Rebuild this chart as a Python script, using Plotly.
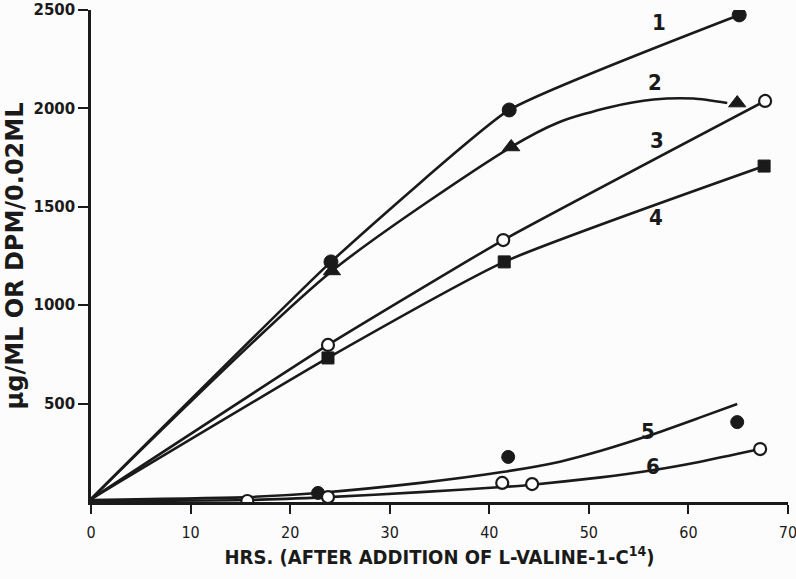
import plotly.graph_objects as go

# measured points (hrs, value)
s1_x = [24.1, 42.0, 65.1]
s1_y = [1220, 1992, 2475]
s2_x = [24.2, 42.2, 64.9]
s2_y = [1174, 1804, 2027]
s3_x = [23.8, 41.4, 67.7]
s3_y = [798, 1331, 2038]
s4_x = [23.8, 41.5, 67.6]
s4_y = [732, 1220, 1707]
s5_x = [22.8, 41.9, 64.9]
s5_y = [46, 229, 406]
s6_x = [15.7, 23.8, 41.3, 44.3, 67.2]
s6_y = [5, 25, 97, 91, 269]

# drawn curves
c1_x = [0, 24.1, 42.0, 65.1]
c1_y = [15, 1220, 1992, 2475]
c2_x = [0, 24.2, 42.2, 47.0, 52.0, 56.5, 60.5, 63.9]
c2_y = [15, 1174, 1804, 1930, 2005, 2045, 2050, 2027]
c3_x = [0, 23.8, 41.4, 67.7]
c3_y = [15, 798, 1331, 2038]
c4_x = [0, 23.8, 41.5, 67.6]
c4_y = [15, 732, 1220, 1707]
c5_x = [0, 15.7, 22.8, 33.1, 41.3, 47.1, 51.2, 56.2, 61.2, 64.9]
c5_y = [10, 25, 46, 97, 152, 205, 260, 340, 430, 498]
c6_x = [0, 15.7, 23.8, 33.1, 41.3, 44.3, 51.2, 56.2, 61.2, 67.2]
c6_y = [5, 10, 25, 50, 76, 88, 125, 160, 205, 269]

lab_text = ["1", "2", "3", "4", "5", "6"]
lab_x = [57.0, 56.6, 56.8, 56.7, 55.9, 56.4]
lab_y = [2439, 2134, 1839, 1448, 356, 178]

x_ticks = [0, 10, 20, 30, 40, 50, 60, 70]
y_ticks = [500, 1000, 1500, 2000, 2500]

fig = go.Figure()

ink = "#1a1a1a"
curves = [(c1_x, c1_y, 0.4), (c2_x, c2_y, 0.7), (c3_x, c3_y, 0.4),
          (c4_x, c4_y, 0.5), (c5_x, c5_y, 0.6), (c6_x, c6_y, 0.6)]
for cx, cy, sm in curves:
    fig.add_trace(go.Scatter(x=cx, y=cy, mode="lines",
                             line=dict(color=ink, width=2.6, shape="spline", smoothing=sm),
                             hoverinfo="skip"))

filled = dict(color=ink, line=dict(color=ink, width=1))
hollow = dict(color="white", line=dict(color=ink, width=2.2))
fig.add_trace(go.Scatter(x=s1_x, y=s1_y, mode="markers", marker=dict(filled, symbol="circle", size=14)))
fig.add_trace(go.Scatter(x=s2_x, y=s2_y, mode="markers", marker=dict(filled, symbol="triangle-up", size=15)))
fig.add_trace(go.Scatter(x=s3_x, y=s3_y, mode="markers", marker=dict(hollow, symbol="circle", size=12)))
fig.add_trace(go.Scatter(x=s4_x, y=s4_y, mode="markers", marker=dict(filled, symbol="square", size=12)))
fig.add_trace(go.Scatter(x=s5_x, y=s5_y, mode="markers", marker=dict(filled, symbol="circle", size=13)))
fig.add_trace(go.Scatter(x=s6_x, y=s6_y, mode="markers", marker=dict(hollow, symbol="circle", size=12)))

for t, lx, ly in zip(lab_text, lab_x, lab_y):
    fig.add_annotation(x=lx, y=ly, text=t, showarrow=False,
                       font=dict(family="DejaVu Sans Condensed", size=22, color=ink, weight="bold"))

fig.update_layout(
    width=796, height=579,
    margin=dict(l=91, r=8, t=10, b=77),
    paper_bgcolor="#fcfcfc", plot_bgcolor="#fcfcfc",
    showlegend=False,
    font=dict(family="Liberation Sans", color=ink),
    xaxis=dict(range=[0, 70], tickvals=x_ticks, showgrid=False, zeroline=False,
               showline=True, linecolor=ink, linewidth=2.5, automargin=False,
               ticks="outside", ticklen=9, tickwidth=2, tickcolor=ink,
               ticklabelstandoff=5, ticklabeloverflow="allow",
               tickfont=dict(family="DejaVu Sans Condensed", size=16),
               title=dict(text="HRS. (AFTER ADDITION OF L-VALINE-1-C<sup>14</sup>)",
                          font=dict(family="DejaVu Sans Condensed", size=20, weight="bold"),
                          standoff=10)),
    yaxis=dict(range=[0, 2500], tickvals=y_ticks, showgrid=False, zeroline=False,
               showline=True, linecolor=ink, linewidth=2.5, automargin=False,
               ticks="outside", ticklen=10, tickwidth=2, tickcolor=ink,
               ticklabeloverflow="allow",
               tickfont=dict(family="DejaVu Sans", size=15, weight="bold"),
               title=dict(text="µg/ML OR DPM/0.02ML",
                          font=dict(family="DejaVu Sans", size=24, weight="bold"),
                          standoff=4)),
)

# drop the default 8px body margin so the figure fills the window
fig.write_html("out.html", config={"displayModeBar": False},
               post_script="document.body.style.margin='0';")
